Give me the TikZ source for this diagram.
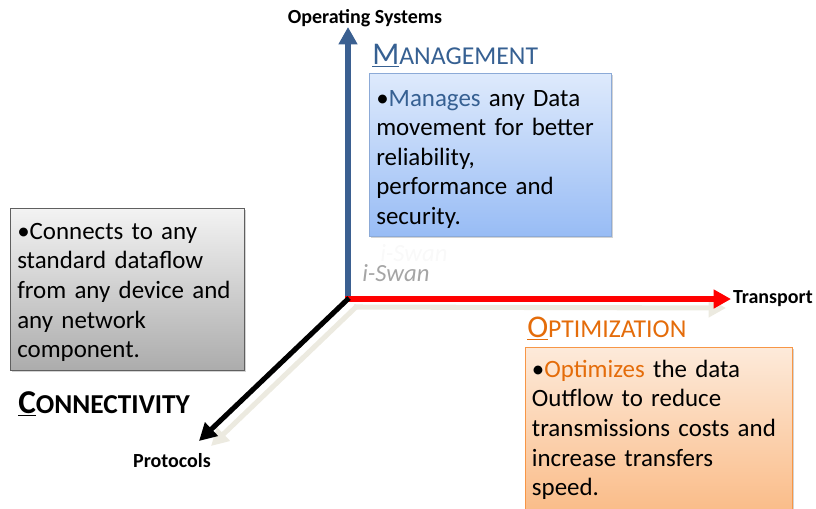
\documentclass[tikz,border=0pt]{standalone}
\usepackage{fontspec}
\setmainfont{Carlito}
\usepackage{xcolor}
\usetikzlibrary{arrows.meta,positioning,shadows}

\definecolor{mgmtblue}{RGB}{54,96,146}
\definecolor{axisblue}{RGB}{59,96,145}
\definecolor{optorange}{RGB}{228,108,10}
\definecolor{axisshade}{RGB}{236,234,224}
\definecolor{swangray}{RGB}{165,165,165}
\definecolor{mgmtline}{RGB}{140,170,215}
\definecolor{mgmttop}{RGB}{222,234,252}
\definecolor{mgmtbot}{RGB}{152,188,245}
\definecolor{connline}{RGB}{95,95,95}
\definecolor{conntop}{RGB}{243,243,243}
\definecolor{connbot}{RGB}{172,172,172}
\definecolor{optline}{RGB}{247,150,70}
\definecolor{opttop}{RGB}{253,234,218}
\definecolor{optbot}{RGB}{250,188,136}

\tikzset{
    axis/.style={line width=3.8pt, -{Triangle[length=13pt,width=13.5pt]}},
    axisshadow/.style={axis, draw=axisshade, fill=axisshade},
    axislabel/.style={font=\fontsize{15}{17}\bfseries},
    infobox/.style={draw, rectangle, anchor=north west, align=left, inner xsep=5pt, inner ysep=0pt,
        font=\fontsize{18.7}{22.2}\selectfont, drop shadow={shadow xshift=1.5pt, shadow yshift=-1.5pt, opacity=0.35}},
    boxlift/.style={execute at begin node={\rule{0pt}{#1}}},
    mgmtbox/.style={infobox, draw=mgmtline, top color=mgmttop, bottom color=mgmtbot,
        text width=171pt, minimum width=181.5pt, minimum height=122pt, boxlift=19pt},
    connbox/.style={infobox, draw=connline, top color=conntop, bottom color=connbot,
        text width=165pt, minimum width=175.5pt, minimum height=121.5pt, boxlift=17pt},
    optbox/.style={infobox, draw=optline, top color=opttop, bottom color=optbot,
        text width=190pt, minimum width=200pt, minimum height=124pt},
    heading/.style={anchor=base west, inner sep=0pt}
}

\begin{document}
\begin{tikzpicture}[x=0.75pt, y=-0.75pt]
    \useasboundingbox (0,0) rectangle (816,508);
    \clip (0,0) rectangle (816,508);

    \coordinate (origin) at (348,299);
    \coordinate (osend) at (348,27);
    \coordinate (trend) at (731,299);
    \coordinate (prend) at (199,441);

    % shadows under the two lower axes
    \draw[axisshadow] ([shift={(6,8)}]origin) -- ([shift={(-5,9)}]trend);
    \draw[axisshadow] ([shift={(9,7)}]origin) -- ([shift={(12,5)}]prend);

    \draw[axis, draw=axisblue, fill=axisblue, line width=4.4pt] (origin) -- (osend);
    \draw[axis, draw=red, fill=red] ([xshift=-2pt]origin) -- (trend);
    \draw[axis, draw=black, fill=black] ([shift={(1,-1)}]origin) -- (prend);

    \node[axislabel, above=-3.75pt of osend, xshift=12.75pt] (oslabel) {Operating Systems};
    \node[axislabel, right=-2pt of trend] (trlabel) {Transport};
    \node[axislabel, anchor=north, inner sep=0pt] (prlabel) at (172,453) {Protocols};

    % product name with its faint reflection
    \node[heading, text=swangray, opacity=0.07, font=\fontsize{18.5}{20}\itshape] (swanrefl) at (380,261) {i-Swan};
    \node[heading, text=swangray, font=\fontsize{18.5}{20}\itshape] (swan) at (362,281) {i-Swan};

    % management
    \node[mgmtbox] (mgmt) at (369,73) {%
        \textbullet{\color{mgmtblue}Manages} any Data\\movement for better\\reliability,\\performance and\\security.};
    \node[heading, text=mgmtblue] (mgmttitle) at (372,64)
        {\fontsize{23.7}{26}\selectfont\underline{M}\fontsize{19.3}{22}\selectfont ANAGEMENT};

    % connectivity
    \node[connbox] (conn) at (10,208) {%
        \textbullet Connects to any\\standard dataflow\\from any device and\\any network\\component.};
    \node[heading, font=\bfseries] (conntitle) at (18,413)
        {\fontsize{25}{26}\selectfont\underline{C}\fontsize{20.5}{22}\selectfont ONNECTIVITY};

    % optimization
    \node[optbox] (opt) at (525,347) {%
        \textbullet{\color{optorange}Optimizes} the data\\Outflow to reduce\\transmissions costs and\\increase transfers\\speed.};
    \node[heading, text=optorange] (opttitle) at (527,337)
        {\fontsize{23.7}{26}\selectfont\underline{O}\fontsize{19.3}{22}\selectfont PTIMIZATION};
\end{tikzpicture}
\end{document}
